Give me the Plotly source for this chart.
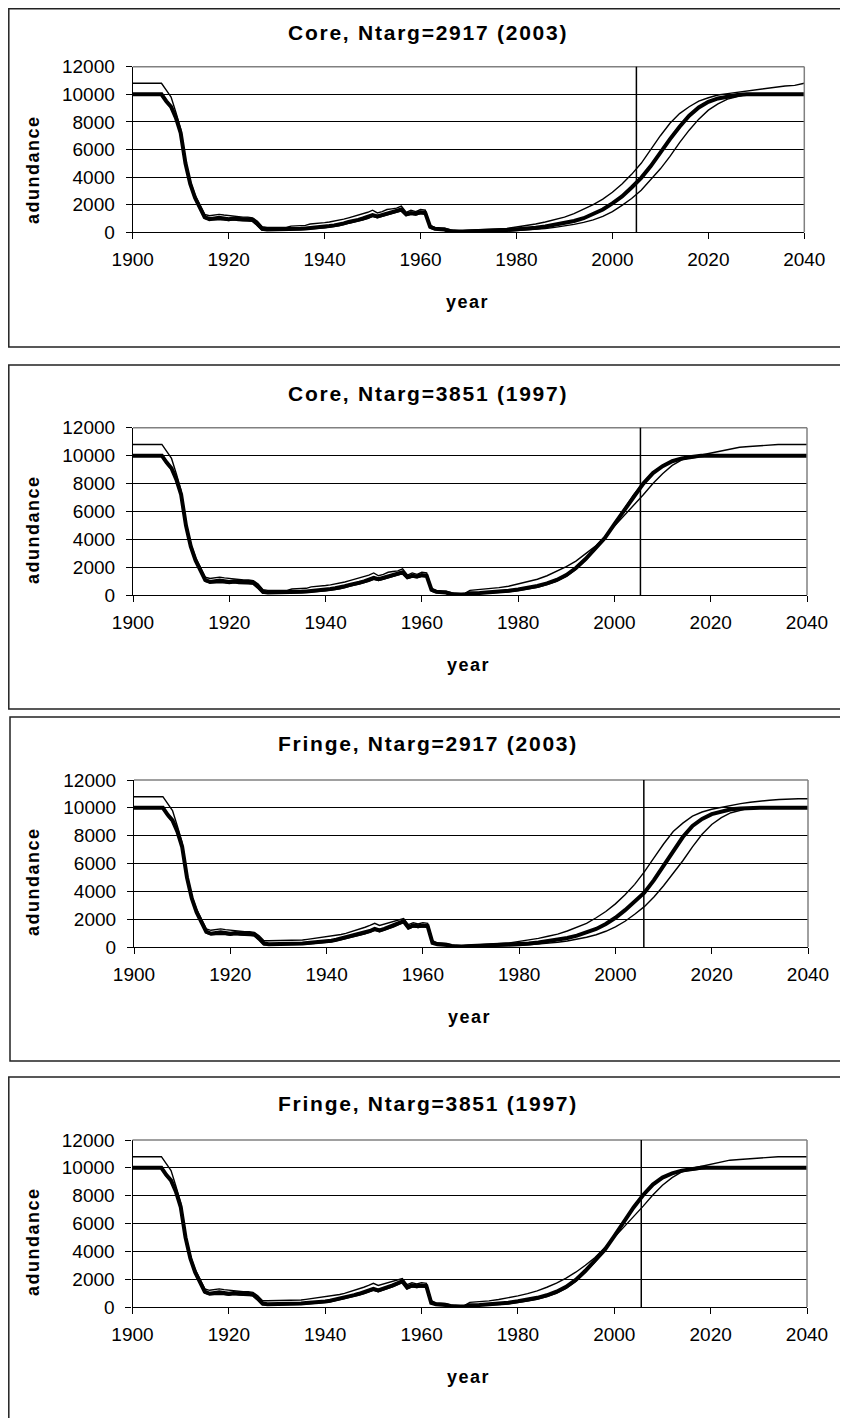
import plotly.graph_objects as go

W, H = 848, 1418
HS = "\u200a"

# ---------------- data ----------------
TITLES = ["Core, Ntarg=2917 (2003)", "Core, Ntarg=3851 (1997)",
          "Fringe, Ntarg=2917 (2003)", "Fringe, Ntarg=3851 (1997)"]
VLINE_YEARS = [2005.0, 2005.4, 2005.9, 2005.6]
X_TICKS = [1900, 1920, 1940, 1960, 1980, 2000, 2020, 2040]
Y_TICKS = [0, 2000, 4000, 6000, 8000, 10000, 12000]
X_TITLE = "year"
Y_TITLE = "adundance"

HIST_YEARS = list(range(1900, 1970))
PROJ_YEARS = list(range(1970, 2041, 2))

CORE_MID_HIST = [
    10000, 10000, 10000, 10000, 10000, 10000, 10000,
    9500, 9100, 8300, 7200, 5000, 3500, 2500, 1800, 1100, 950,
    1000, 1050, 1000, 950, 1000, 950, 950, 950, 900, 600,
    250, 200, 200, 200, 200, 200, 220, 220, 250, 280,
    300, 320, 350, 400, 450, 500, 550, 650, 750, 800,
    900, 1000, 1100, 1250, 1150, 1250, 1350, 1450, 1550, 1650,
    1300, 1400, 1350, 1450, 1400, 400, 250, 250, 200, 100,
    50, 50, 60]
CORE_UP_HIST = [
    10800, 10800, 10800, 10800, 10800, 10800, 10800,
    10300, 9800, 8700, 7500, 5200, 3700, 2700, 2000, 1300, 1200,
    1250, 1300, 1250, 1200, 1200, 1150, 1100, 1100, 1050, 800,
    400, 350, 350, 350, 350, 350, 450, 450, 450, 500,
    600, 620, 650, 700, 750, 800, 900, 950, 1050, 1150,
    1200, 1300, 1450, 1600, 1400, 1500, 1650, 1700, 1750, 1900,
    1450, 1600, 1500, 1650, 1600, 500, 350, 300, 300, 200,
    100, 100, 150]
CORE_LO_HIST = [
    10000, 10000, 10000, 10000, 10000, 10000, 10000,
    9400, 9000, 8200, 7100, 4900, 3400, 2400, 1700, 1000, 900,
    900, 950, 900, 850, 900, 850, 850, 850, 800, 500,
    150, 150, 150, 150, 150, 150, 170, 170, 200, 220,
    240, 260, 290, 330, 380, 420, 470, 560, 650, 700,
    800, 900, 1000, 1150, 1050, 1150, 1250, 1350, 1450, 1550,
    1200, 1300, 1250, 1350, 1300, 300, 200, 200, 150, 60,
    30, 30, 40]

FRINGE_MID_HIST = [
    10000, 10000, 10000, 10000, 10000, 10000, 10000,
    9500, 9100, 8300, 7200, 5000, 3500, 2500, 1800, 1100, 950,
    1000, 1050, 1000, 950, 1000, 950, 950, 950, 900, 600,
    250, 200, 200, 200, 200, 200, 220, 220, 250, 280,
    300, 320, 350, 400, 450, 520, 600, 680, 780, 850,
    950, 1050, 1150, 1300, 1200, 1300, 1450, 1550, 1700, 1850,
    1400, 1550, 1500, 1550, 1500, 300, 200, 200, 150, 80,
    30, 30, 50]
FRINGE_UP_HIST = [
    10800, 10800, 10800, 10800, 10800, 10800, 10800,
    10300, 9800, 8700, 7500, 5200, 3700, 2700, 2000, 1300, 1200,
    1250, 1300, 1250, 1200, 1200, 1150, 1100, 1100, 1050, 800,
    450, 450, 450, 450, 450, 450, 450, 450, 500, 550,
    600, 650, 680, 700, 750, 820, 900, 980, 1080, 1200,
    1300, 1420, 1550, 1700, 1550, 1650, 1750, 1850, 1950, 2050,
    1600, 1750, 1650, 1750, 1700, 450, 300, 300, 250, 150,
    80, 80, 120]
FRINGE_LO_HIST = [
    10000, 10000, 10000, 10000, 10000, 10000, 10000,
    9400, 9000, 8200, 7100, 4900, 3400, 2400, 1700, 1000, 900,
    900, 950, 900, 850, 900, 850, 850, 850, 800, 500,
    150, 150, 150, 150, 150, 150, 170, 170, 200, 220,
    240, 260, 290, 330, 380, 440, 520, 600, 700, 750,
    850, 950, 1050, 1200, 1100, 1200, 1350, 1450, 1600, 1750,
    1300, 1450, 1400, 1450, 1400, 250, 150, 150, 100, 40,
    20, 20, 30]

# projections 1970-2040 (every 2 years)
P1_MID = [80, 100, 110, 130, 160, 200, 260, 330, 420, 530, 650, 820, 1020, 1300,
          1650, 2100, 2600, 3250, 3950, 4800, 5800, 6750, 7650, 8450, 9050, 9450,
          9700, 9850, 9950, 10000, 10000, 10000, 10000, 10000, 10000, 10000]
P1_UP = [150, 180, 200, 220, 280, 380, 480, 600, 750, 900, 1100, 1350, 1650, 2000,
         2400, 2900, 3500, 4200, 5000, 6000, 7000, 7900, 8600, 9100, 9500, 9750,
         9950, 10050, 10150, 10250, 10350, 10450, 10550, 10600, 10650, 10800]
P1_LO = [40, 50, 60, 70, 90, 120, 160, 210, 280, 360, 450, 570, 720, 900,
         1150, 1500, 1950, 2450, 3050, 3800, 4600, 5500, 6500, 7400, 8200, 8850,
         9300, 9650, 9850, 10000, 10000, 10000, 10000, 10000, 10000, 10000]

P2_MID = [150, 170, 200, 250, 320, 420, 530, 670, 850, 1100, 1450, 1950, 2600, 3300,
          4100, 5100, 6100, 7100, 8000, 8750, 9250, 9600, 9800, 9900, 10000, 10000,
          10000, 10000, 10000, 10000, 10000, 10000, 10000, 10000, 10000, 10000]
P2_UP = [350, 400, 450, 550, 650, 800, 950, 1150, 1400, 1700, 2050, 2450, 2950, 3500,
         4200, 4950, 5700, 6400, 7200, 8000, 8700, 9300, 9700, 9900, 10050, 10200,
         10300, 10450, 10600, 10650, 10700, 10800, 10800, 10800, 10800, 10800]
P2_LO = [100, 120, 150, 190, 250, 340, 440, 580, 760, 1000, 1350, 1850, 2500, 3250,
         4100, 5150, 6200, 7200, 8050, 8800, 9300, 9600, 9750, 9850, 9950, 10000,
         10000, 10000, 10000, 10000, 10000, 10000, 10000, 10000, 10000, 10000]

P3_MID = [60, 80, 100, 120, 150, 190, 250, 320, 410, 520, 650, 820, 1030, 1300,
          1650, 2100, 2650, 3250, 3900, 4800, 5800, 6900, 7900, 8700, 9200, 9550,
          9750, 9900, 9950, 10000, 10000, 10000, 10000, 10000, 10000, 10000]
P3_UP = [150, 170, 200, 230, 290, 400, 500, 620, 770, 930, 1150, 1400, 1700, 2100,
         2550, 3100, 3750, 4500, 5400, 6400, 7400, 8300, 8900, 9400, 9700, 9900,
         10050, 10200, 10300, 10400, 10500, 10550, 10600, 10650, 10650, 10650]
P3_LO = [30, 40, 50, 60, 80, 110, 150, 200, 260, 340, 430, 550, 700, 880,
         1130, 1450, 1850, 2350, 2900, 3600, 4400, 5300, 6200, 7200, 8100, 8800,
         9300, 9650, 9850, 10000, 10000, 10000, 10000, 10000, 10000, 10000]

P4_MID = [120, 150, 190, 240, 310, 410, 520, 660, 840, 1100, 1450, 1950, 2600, 3300,
          4100, 5100, 6150, 7150, 8050, 8800, 9300, 9600, 9800, 9900, 10000, 10000,
          10000, 10000, 10000, 10000, 10000, 10000, 10000, 10000, 10000, 10000]
P4_UP = [330, 380, 440, 540, 650, 800, 960, 1160, 1420, 1720, 2080, 2500, 3000, 3550,
         4250, 5000, 5750, 6450, 7250, 8050, 8750, 9300, 9700, 9950, 10100, 10300,
         10450, 10550, 10600, 10650, 10700, 10800, 10800, 10800, 10800, 10800]
P4_LO = [80, 100, 130, 170, 230, 320, 420, 560, 740, 980, 1330, 1830, 2480, 3230,
         4080, 5130, 6200, 7200, 8050, 8800, 9300, 9600, 9750, 9850, 9950, 10000,
         10000, 10000, 10000, 10000, 10000, 10000, 10000, 10000, 10000, 10000]

SERIES = [
    (CORE_MID_HIST + P1_MID, CORE_UP_HIST + P1_UP, CORE_LO_HIST + P1_LO),
    (CORE_MID_HIST + P2_MID, CORE_UP_HIST + P2_UP, CORE_LO_HIST + P2_LO),
    (FRINGE_MID_HIST + P3_MID, FRINGE_UP_HIST + P3_UP, FRINGE_LO_HIST + P3_LO),
    (FRINGE_MID_HIST + P4_MID, FRINGE_UP_HIST + P4_UP, FRINGE_LO_HIST + P4_LO),
]
YEARS = HIST_YEARS + PROJ_YEARS

# ---------------- layout (page pixels) ----------------
PANELS = [
    dict(box=(8.8, 8.8, 846.5, 347), plot=(132.7, 804.3, 66.7, 232.3), ty=33, yty=171),
    dict(box=(8.8, 365, 846.5, 709), plot=(133, 807, 427.7, 595.3), ty=393, yty=531),
    dict(box=(10, 717, 846.5, 1061), plot=(134, 808, 780, 947), ty=743, yty=883),
    dict(box=(8.8, 1077, 860, 1430), plot=(132.5, 807, 1140, 1307), ty=1103, yty=1243),
]
PAGE_OFFSET = 8  # default body margin of the html page

FONT = "Liberation Sans, Arial, sans-serif"


def fx(p):
    return (p - PAGE_OFFSET) / W


def fy(p):
    return 1 - (p - PAGE_OFFSET) / H


def spaced(s):
    return HS.join(s)


fig = go.Figure()
shapes = []
annotations = []
layout_axes = {}

for i, (p, ser) in enumerate(zip(PANELS, SERIES)):
    n = "" if i == 0 else str(i + 1)
    xa, ya = "x" + n, "y" + n
    mid, up, lo = ser
    for vals, w in ((up, 1.4), (lo, 1.4), (mid, 4)):
        fig.add_trace(go.Scatter(x=YEARS, y=vals, mode="lines", xaxis=xa, yaxis=ya,
                                 line=dict(color="black", width=w), showlegend=False,
                                 hoverinfo="skip"))
    l, r, t, b = p["plot"]
    layout_axes["xaxis" + n] = dict(
        domain=[fx(l), fx(r)], range=[1900, 2040], anchor=ya, automargin=False,
        tickmode="array", tickvals=X_TICKS, ticktext=[str(v) for v in X_TICKS],
        ticks="outside", ticklen=6, tickcolor="black", tickwidth=1,
        showline=True, linecolor="black", linewidth=1.2,
        showgrid=False, zeroline=False, ticklabelstandoff=4,
        tickfont=dict(family=FONT, size=19, color="black"))
    layout_axes["yaxis" + n] = dict(
        domain=[fy(b), fy(t)], range=[0, 12000], anchor=xa, automargin=False,
        tickmode="array", tickvals=Y_TICKS, ticktext=[str(v) for v in Y_TICKS],
        ticks="outside", ticklen=6, tickcolor="black", tickwidth=1,
        showline=True, linecolor="black", linewidth=1.2,
        showgrid=True, gridcolor="black", gridwidth=1, zeroline=False,
        ticklabelstandoff=7,
        tickfont=dict(family=FONT, size=19, color="black"))
    shapes.append(dict(type="line", xref="paper", yref="paper", x0=fx(l), x1=fx(r),
                       y0=fy(t), y1=fy(t), line=dict(color="#808080", width=1.5)))
    shapes.append(dict(type="line", xref="paper", yref="paper", x0=fx(r), x1=fx(r),
                       y0=fy(t), y1=fy(b), line=dict(color="#808080", width=1.5)))
    shapes.append(dict(type="line", xref=xa, yref=ya + " domain", x0=VLINE_YEARS[i],
                       x1=VLINE_YEARS[i], y0=0, y1=1, line=dict(color="black", width=1.5)))
    bx0, by0, bx1, by1 = p["box"]
    shapes.append(dict(type="rect", xref="paper", yref="paper", x0=fx(bx0), x1=fx(bx1),
                       y0=fy(by1), y1=fy(by0), line=dict(color="#222", width=1.5),
                       fillcolor="rgba(0,0,0,0)"))
    annotations.append(dict(text="<b>" + spaced(TITLES[i]) + "</b>", xref="paper", yref="paper",
                            x=fx(427), y=fy(p["ty"]), showarrow=False,
                            xanchor="center", yanchor="middle",
                            font=dict(family=FONT, size=21, color="black")))
    annotations.append(dict(text="<b>" + spaced(X_TITLE) + "</b>", xref="paper", yref="paper",
                            x=fx((l + r) / 2 - 2), y=fy(b + 70), showarrow=False,
                            xanchor="center", yanchor="middle",
                            font=dict(family=FONT, size=18, color="black")))
    annotations.append(dict(text="<b>" + spaced(Y_TITLE) + "</b>", xref="paper", yref="paper",
                            x=fx(33), y=fy(p["yty"]), showarrow=False, textangle=-90,
                            xanchor="center", yanchor="middle",
                            font=dict(family=FONT, size=18, color="black")))

fig.update_layout(template="none", width=W, height=H,
                  margin=dict(l=0, r=0, t=0, b=0, pad=0, autoexpand=False),
                  paper_bgcolor="white", plot_bgcolor="white",
                  font=dict(family=FONT, color="black"),
                  shapes=shapes, annotations=annotations, **layout_axes)
fig.write_html("out.html")
